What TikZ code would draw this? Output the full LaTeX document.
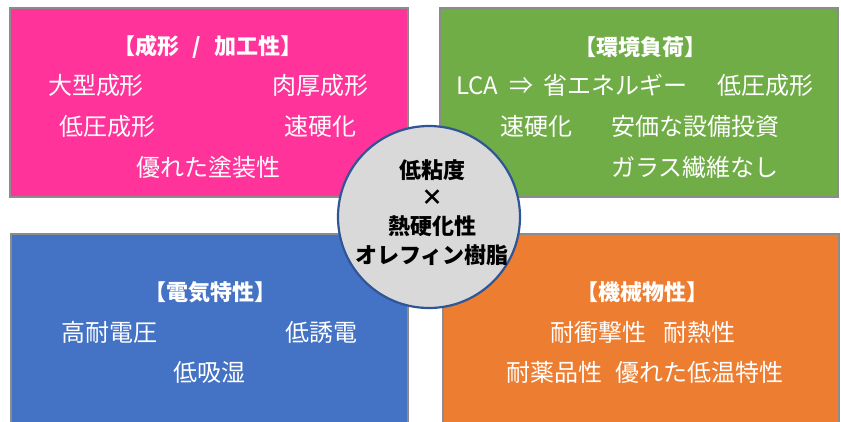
\documentclass[tikz,border=0pt]{standalone}
\usepackage{fontspec}
\setmainfont{Noto Sans CJK JP}
\definecolor{pinkc}{HTML}{FF3399}
\definecolor{greenc}{HTML}{70AD47}
\definecolor{bluec}{HTML}{4472C4}
\definecolor{orangec}{HTML}{ED7D31}
\definecolor{edgec}{HTML}{8C8C8C}
\definecolor{circfill}{HTML}{D9D9D9}
\definecolor{circedge}{HTML}{2F5597}
\tikzset{
  panel/.style={draw=edgec, line width=2pt},
  ttl/.style={text=white, font=\fontsize{22}{26}\selectfont\bfseries, inner sep=0pt},
  item/.style={text=white, font=\fontsize{24}{28}\selectfont, inner sep=0pt},
  ctext/.style={text=black, font=\fontsize{22}{26}\selectfont\bfseries, inner sep=0pt},
}
\begin{document}
\begin{tikzpicture}[x=1pt,y=-1pt]
\useasboundingbox (0,0) rectangle (841,421);
% panels
\draw[panel, fill=pinkc] (10,8) rectangle (408,197);
\draw[panel, fill=greenc] (440,8) rectangle (838,197);
\draw[panel, fill=bluec] (11,234) rectangle (408,430);
\draw[panel, fill=orangec] (443,234) rectangle (839,430);
% pink
\node[ttl] (t1) at (208,47) {【成形\hspace{0.6em}/\hspace{0.6em}加工性】};
\node[item] (p1) at (96,85) {大型成形};
\node[item] (p2) at (320,85) {肉厚成形};
\node[item] (p3) at (107,126) {低圧成形};
\node[item] (p4) at (320,126) {速硬化};
\node[item] (p5) at (208,167) {優れた塗装性};
% green
\node[ttl] (t2) at (640,47) {【環境負荷】};
\node[item] (g1) at (572,85) {LCA\hspace{0.45em}⇒\hspace{0.45em}省エネルギー};
\node[item] (g2) at (765,85) {低圧成形};
\node[item] (g3) at (536,126) {速硬化};
\node[item] (g4) at (695,126) {安価な設備投資};
\node[item] (g5) at (695,167) {ガラス繊維なし};
% blue
\node[ttl] (t3) at (210,292) {【電気特性】};
\node[item] (b1) at (109,332) {高耐電圧};
\node[item] (b2) at (321,332) {低誘電};
\node[item] (b3) at (209,372) {低吸湿};
% orange
\node[ttl] (t4) at (642,292) {【機械物性】};
\node[item] (o1) at (598,332) {耐衝撃性};
\node[item] (o2) at (699,332) {耐熱性};
\node[item] (o3) at (554,372) {耐薬品性};
\node[item] (o4) at (699,372) {優れた低温特性};
% center circle
\draw[fill=circfill, draw=circedge, line width=2.2pt] (429,217) circle (91);
\node[ctext] (c1) at (432,170) {低粘度};
\node[ctext] (c2) at (432,198) {×};
\node[ctext] (c3) at (432,226) {熱硬化性};
\node[ctext] (c4) at (432,255) {オレフィン樹脂};
\end{tikzpicture}
\end{document}
